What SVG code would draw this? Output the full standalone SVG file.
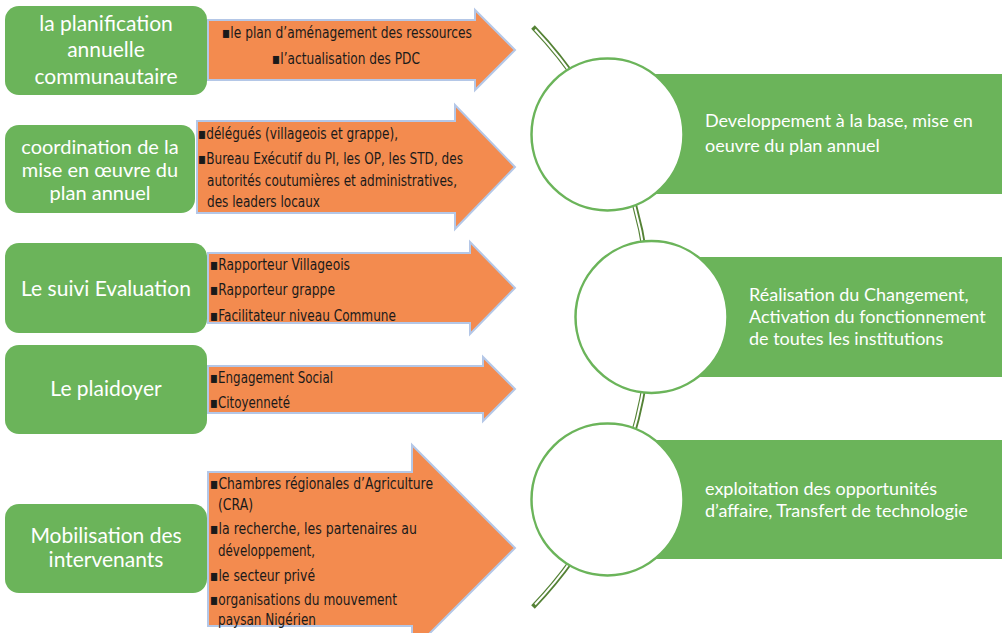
<svg xmlns="http://www.w3.org/2000/svg" width="1007" height="633" viewBox="0 0 1007 633">
<style>
.box{fill:#6bb45a;}
.lt{font-family:Lato,"Open Sans","Liberation Sans",sans-serif;font-size:21px;fill:#ffffff;text-anchor:middle;}
.lt2{font-size:20px;}
.rt{font-family:Lato,"Open Sans","Liberation Sans",sans-serif;font-size:18px;fill:#ffffff;}
.arr{fill:#f38b4f;stroke:#b4c7e7;stroke-width:2;stroke-linejoin:miter;}
.at{font-family:"DejaVu Sans Condensed","DejaVu Sans",sans-serif;font-size:16px;fill:#1a1a1a;}
.circ{fill:#ffffff;stroke:#6bb45a;stroke-width:2.5;}
.lineO{fill:none;stroke:#548235;stroke-width:5;}
.lineI{fill:none;stroke:#ffffff;stroke-width:2;}
</style>
<rect width="1007" height="633" fill="#ffffff"/>

<g id="connectors">
<path class="lineO" d="M533,27 A418.5,418.5 0 0,1 533,607"/>
<path class="lineI" d="M535,29.5 A418.5,418.5 0 0,1 535,604.5"/>
</g>

<g id="box1"><rect class="box" x="5" y="6" width="202" height="89" rx="14"/>
<text class="lt" x="106" y="31">la planification</text>
<text class="lt" x="106" y="57">annuelle</text>
<text class="lt" x="106" y="84">communautaire</text></g>

<g id="box2"><rect class="box" x="5" y="125" width="190" height="88" rx="14"/>
<text class="lt lt2" x="100" y="154">coordination de la</text>
<text class="lt lt2" x="100" y="177">mise en œuvre du</text>
<text class="lt lt2" x="100" y="200">plan annuel</text></g>

<g id="box3"><rect class="box" x="5" y="243" width="202" height="90" rx="14"/>
<text class="lt" x="106" y="296">Le suivi Evaluation</text></g>

<g id="box4"><rect class="box" x="5" y="345" width="202" height="89" rx="14"/>
<text class="lt" x="106" y="396">Le plaidoyer</text></g>

<g id="box5"><rect class="box" x="5" y="504" width="202" height="89" rx="14"/>
<text class="lt" x="106" y="543">Mobilisation des</text>
<text class="lt" x="106" y="567">intervenants</text></g>

<g id="arrow1"><polygon class="arr" points="208,20 475,20 475,10 515,50 475,90 475,80 208,80"/>
<text class="at" x="222" y="38" textLength="250" lengthAdjust="spacingAndGlyphs">▪le plan d’aménagement des ressources</text>
<text class="at" x="272" y="64" textLength="148" lengthAdjust="spacingAndGlyphs">▪l’actualisation des PDC</text></g>

<g id="arrow2"><polygon class="arr" points="197,121 455,121 455,105 515,167 455,229 455,213 197,213"/>
<text class="at" x="198" y="139" textLength="200" lengthAdjust="spacingAndGlyphs">▪délégués (villageois et grappe),</text>
<text class="at" x="198" y="164" textLength="265" lengthAdjust="spacingAndGlyphs">▪Bureau Exécutif du PI, les OP, les STD, des</text>
<text class="at" x="207" y="186" textLength="250" lengthAdjust="spacingAndGlyphs">autorités coutumières et administratives,</text>
<text class="at" x="207" y="207" textLength="113" lengthAdjust="spacingAndGlyphs">des leaders locaux</text></g>

<g id="arrow3"><polygon class="arr" points="208,253 470,253 470,242 515,288 470,334 470,323 208,323"/>
<text class="at" x="210" y="270" textLength="140" lengthAdjust="spacingAndGlyphs">▪Rapporteur Villageois</text>
<text class="at" x="210" y="295" textLength="125" lengthAdjust="spacingAndGlyphs">▪Rapporteur grappe</text>
<text class="at" x="210" y="321" textLength="186" lengthAdjust="spacingAndGlyphs">▪Facilitateur niveau Commune</text></g>

<g id="arrow4"><polygon class="arr" points="208,366 483,366 483,357 515,389 483,421 483,413 208,413"/>
<text class="at" x="210" y="383" textLength="123" lengthAdjust="spacingAndGlyphs">▪Engagement Social</text>
<text class="at" x="210" y="408" textLength="80" lengthAdjust="spacingAndGlyphs">▪Citoyenneté</text></g>

<g id="arrow5"><polygon class="arr" points="208,472 412,472 412,445 515,548 412,651 412,626 208,626"/>
<text class="at" x="210" y="489" textLength="223" lengthAdjust="spacingAndGlyphs">▪Chambres régionales d’Agriculture</text>
<text class="at" x="218" y="510" textLength="35" lengthAdjust="spacingAndGlyphs">(CRA)</text>
<text class="at" x="210" y="534" textLength="207" lengthAdjust="spacingAndGlyphs">▪la recherche, les partenaires au</text>
<text class="at" x="218" y="556" textLength="97" lengthAdjust="spacingAndGlyphs">développement,</text>
<text class="at" x="210" y="581" textLength="105" lengthAdjust="spacingAndGlyphs">▪le secteur privé</text>
<text class="at" x="210" y="605" textLength="187" lengthAdjust="spacingAndGlyphs">▪organisations du mouvement</text>
<text class="at" x="218" y="625" textLength="98" lengthAdjust="spacingAndGlyphs">paysan Nigérien</text></g>

<g id="result1"><rect class="box" x="607" y="74" width="395" height="120"/>
<circle class="circ" cx="607.5" cy="134.5" r="76"/>
<text class="rt" x="705" y="127">Developpement à la base, mise en</text>
<text class="rt" x="705" y="152">oeuvre du plan annuel</text></g>

<g id="result2"><rect class="box" x="651" y="257" width="351" height="120"/>
<circle class="circ" cx="651.5" cy="317" r="76"/>
<text class="rt" x="749" y="301">Réalisation du Changement,</text>
<text class="rt" x="749" y="323">Activation du fonctionnement</text>
<text class="rt" x="749" y="345">de toutes les institutions</text></g>

<g id="result3"><rect class="box" x="607" y="440" width="395" height="119"/>
<circle class="circ" cx="607.5" cy="499.5" r="76"/>
<text class="rt" x="705" y="495">exploitation des opportunités</text>
<text class="rt" x="705" y="517">d’affaire, Transfert de technologie</text></g>
</svg>
